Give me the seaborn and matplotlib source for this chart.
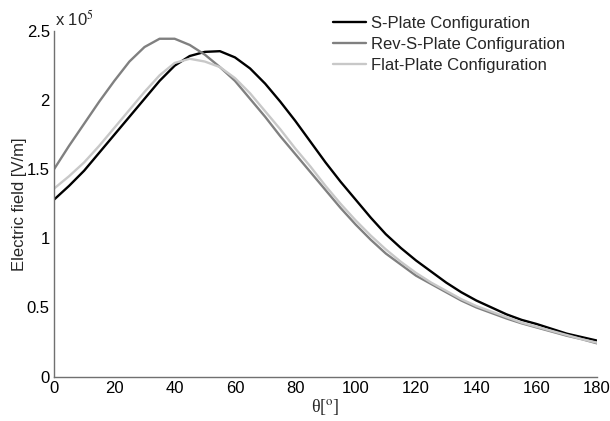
import matplotlib
matplotlib.use("Agg")
import matplotlib.pyplot as plt
import matplotlib.ticker as mticker
import pandas as pd
import seaborn as sns

# angle samples [deg] and field values [x 1e5 V/m]
theta = list(range(0, 181, 5))

s_plate = [1.28, 1.38, 1.49, 1.62, 1.75, 1.88, 2.01, 2.14, 2.25, 2.32,
           2.35, 2.355, 2.31, 2.23, 2.12, 1.99, 1.85, 1.70, 1.55, 1.41,
           1.28, 1.15, 1.03, 0.93, 0.84, 0.76, 0.68, 0.61, 0.55, 0.50,
           0.45, 0.41, 0.38, 0.345, 0.31, 0.285, 0.26]

rev_s_plate = [1.50, 1.67, 1.83, 1.99, 2.14, 2.28, 2.385, 2.445, 2.445, 2.40,
               2.33, 2.24, 2.14, 2.01, 1.88, 1.74, 1.61, 1.48, 1.35, 1.22,
               1.10, 0.99, 0.89, 0.81, 0.73, 0.67, 0.61, 0.55, 0.50, 0.46,
               0.42, 0.385, 0.355, 0.325, 0.295, 0.27, 0.24]

flat_plate = [1.36, 1.45, 1.55, 1.67, 1.80, 1.93, 2.06, 2.18, 2.27, 2.30,
              2.28, 2.24, 2.16, 2.05, 1.92, 1.79, 1.65, 1.52, 1.38, 1.25,
              1.13, 1.02, 0.92, 0.83, 0.75, 0.68, 0.62, 0.56, 0.51, 0.47,
              0.43, 0.39, 0.36, 0.33, 0.30, 0.27, 0.245]

labels = ["S-Plate Configuration", "Rev-S-Plate Configuration", "Flat-Plate Configuration"]
colors = ["#000000", "#808080", "#c8c8c8"]

# long table for seaborn
frames = []
for name, vals in zip(labels, [s_plate, rev_s_plate, flat_plate]):
    frames.append(pd.DataFrame({"theta": theta,
                                "field": [v * 1e5 for v in vals],
                                "config": name}))
df = pd.concat(frames, ignore_index=True)

sns.set_style("white")
plt.rcParams["font.family"] = ["Liberation Sans", "DejaVu Sans"]
plt.rcParams["mathtext.fontset"] = "stix"

fig = plt.figure(figsize=(6.1, 4.21), dpi=100)
ax = fig.add_axes([0.0885, 0.1057, 0.8902, 0.8203])

sns.lineplot(data=df, x="theta", y="field", hue="config", hue_order=labels,
             palette=dict(zip(labels, colors)), linewidth=1.7, ax=ax)

ax.set_xlim(0, 180)
ax.set_ylim(0, 2.5e5)
ax.set_xticks(range(0, 181, 20))
ax.set_yticks([0, 0.5e5, 1e5, 1.5e5, 2e5, 2.5e5])
ax.yaxis.set_major_formatter(mticker.FuncFormatter(lambda v, p: f"{v / 1e5:g}"))

for side in ["top", "right"]:
    ax.spines[side].set_visible(False)
for side in ["left", "bottom"]:
    ax.spines[side].set_color("#707070")
    ax.spines[side].set_linewidth(1.0)
ax.tick_params(direction="in", length=5, width=1, color="#707070",
               labelsize=12, labelcolor="black", pad=3)

ax.set_xlabel(r"θ[$^\mathrm{o}$]", fontsize=13, family=["Liberation Serif", "DejaVu Serif"])
ax.xaxis.set_label_coords(0.5, -0.06)
ax.set_ylabel("Electric field [V/m]", fontsize=12)
ax.yaxis.set_label_coords(-0.05, 0.5)

# MATLAB style exponent above the y axis
fig.text(0.09, 0.94, r"x 10$^{5}$", fontsize=12, va="baseline", ha="left")

ax.legend(frameon=False, loc="upper left", bbox_to_anchor=(333 / 610, 1 - 16 / 421),
          bbox_transform=fig.transFigure, fontsize=12, handlelength=2.0,
          handletextpad=0.3, labelspacing=0.37, borderpad=0, borderaxespad=0)

fig.savefig("out.png", dpi=100)
